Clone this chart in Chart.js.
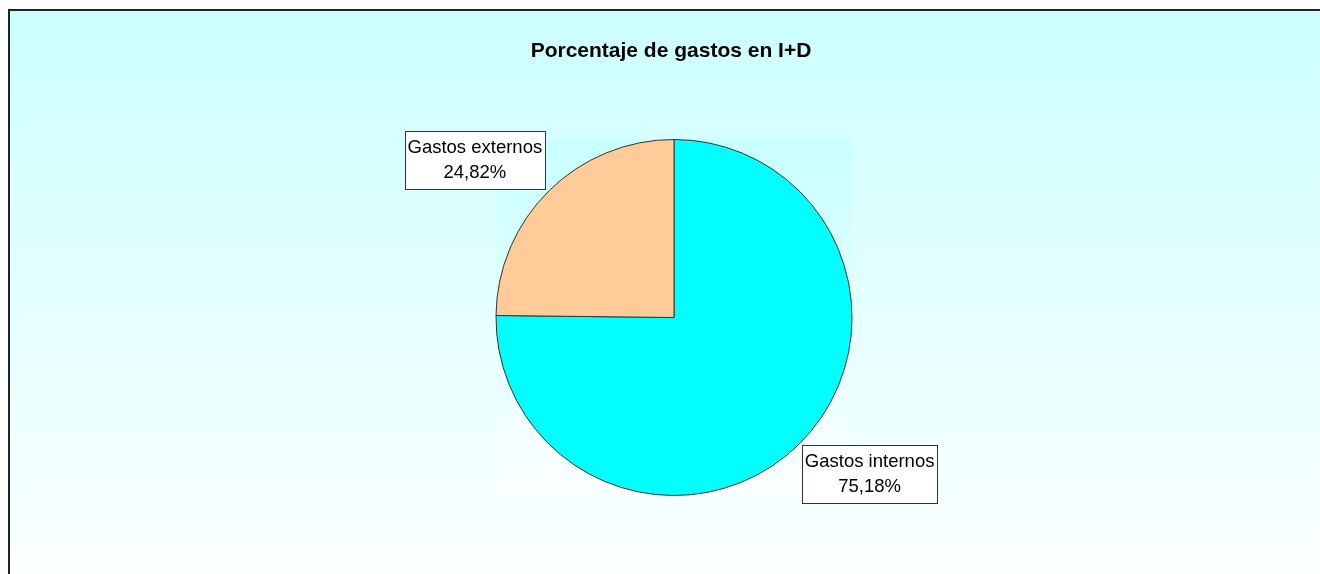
<!DOCTYPE html>
<html lang="es">
  <head>
    <meta charset="UTF-8" />
    <title>Porcentaje de gastos en I+D</title>
    <script src="https://cdn.jsdelivr.net/npm/chart.js"></script>
    <style>
      body {
        margin: 0;
        padding: 0;
        background: #ffffff;
      }
      #wrap {
        width: 1320px;
        height: 574px;
      }
    </style>
  </head>
  <body>
    <div id="wrap"><canvas id="pie-chart" width="1320" height="574"></canvas></div>

    <script>
      const chartTitle = "Porcentaje de gastos en I+D";
      const labels = ["Gastos internos", "Gastos externos"];
      const values = [75.18, 24.82];
      const colors = ["#00ffff", "#ffcc99"];

      const fmt = (v) => v.toFixed(2).replace(".", ",") + "%";

      // background, frame and plot area
      const backdrop = {
        id: "backdrop",
        beforeDraw(chart) {
          const { ctx, width } = chart;
          const arc = chart.getDatasetMeta(0).data[0];
          ctx.save();
          let g = ctx.createLinearGradient(0, 10, 0, 620);
          g.addColorStop(0, "#ccffff");
          g.addColorStop(1, "#ffffff");
          ctx.fillStyle = g;
          ctx.fillRect(9, 10, width, 600);

          if (arc) {
            const r = arc.outerRadius + 0.5;
            const top = arc.y - r;
            g = ctx.createLinearGradient(0, top, 0, arc.y + r);
            g.addColorStop(0, "#c9ffff");
            g.addColorStop(1, "#fbffff");
            ctx.fillStyle = g;
            ctx.fillRect(arc.x - r, top, 2 * r, 2 * r);
          }

          ctx.strokeStyle = "#222";
          ctx.lineWidth = 2;
          ctx.beginPath();
          ctx.moveTo(9, 600);
          ctx.lineTo(9, 10);
          ctx.lineTo(width + 5, 10);
          ctx.stroke();

          ctx.fillStyle = "#000";
          ctx.font = "bold 21px 'Liberation Sans', Arial, sans-serif";
          ctx.textAlign = "center";
          ctx.textBaseline = "middle";
          ctx.fillText(chartTitle, 671, 51);
          ctx.restore();
        },
      };

      // boxed labels with the corner on the arc midpoint
      const boxLabels = {
        id: "boxLabels",
        afterDatasetsDraw(chart) {
          const { ctx } = chart;
          const meta = chart.getDatasetMeta(0);
          ctx.save();
          ctx.font = "18.5px 'Liberation Sans', Arial, sans-serif";
          ctx.textAlign = "center";
          ctx.textBaseline = "middle";
          meta.data.forEach((arc, i) => {
            const mid = (arc.startAngle + arc.endAngle) / 2;
            const px = arc.x + Math.cos(mid) * arc.outerRadius;
            const py = arc.y + Math.sin(mid) * arc.outerRadius;
            const l1 = labels[i];
            const l2 = fmt(values[i]);
            const w = Math.ceil(Math.max(ctx.measureText(l1).width, ctx.measureText(l2).width)) + 5;
            const h = 58;
            const bx = Math.cos(mid) < 0 ? px - w - 4 : px + 3;
            const by = Math.sin(mid) < 0 ? py - h - 2 : py + 1;
            ctx.fillStyle = "#ffffff";
            ctx.fillRect(bx, by, w, h);
            ctx.strokeStyle = "#333";
            ctx.lineWidth = 1;
            ctx.strokeRect(Math.round(bx) + 0.5, Math.round(by) + 0.5, w, h);
            ctx.fillStyle = "#000";
            ctx.fillText(l1, bx + w / 2, by + 17);
            ctx.fillText(l2, bx + w / 2, by + 42);
          });
          ctx.restore();
        },
      };

      new Chart(document.getElementById("pie-chart"), {
        type: "pie",
        data: {
          labels,
          datasets: [
            {
              data: values,
              backgroundColor: colors,
              borderColor: "#333333",
              borderWidth: 1,
            },
          ],
        },
        options: {
          responsive: false,
          animation: false,
          layout: { padding: { left: 28, right: 0, top: 139, bottom: 78 } },
          plugins: {
            legend: { display: false },
            tooltip: { enabled: false },
            title: { display: false },
          },
        },
        plugins: [backdrop, boxLabels],
      });
    </script>
  </body>
</html>
